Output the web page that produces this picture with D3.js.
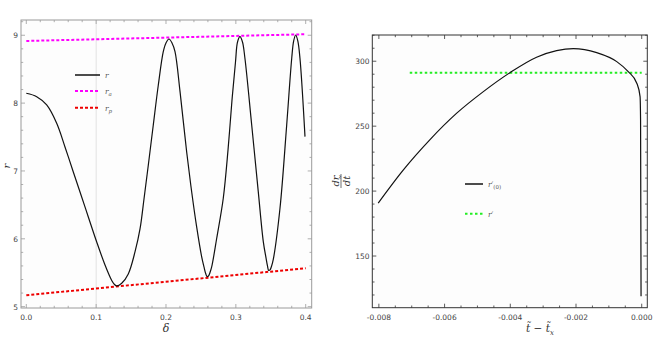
<!DOCTYPE html>
<html><head><meta charset="utf-8">
<script src="https://cdn.jsdelivr.net/npm/d3@7"></script>
<style>body{margin:0;background:#fff}svg{display:block}</style>
</head><body>
<svg id="c" width="659" height="337"></svg>
<script>
// ---- Left panel data: r(δ) ----
const deltaVals = [0, 0.0149, 0.0292, 0.0435, 0.0554, 0.0673, 0.0769, 0.0888, 0.1008, 0.1127, 0.1223, 0.1263, 0.1294,
  0.1366, 0.146, 0.1556, 0.1628, 0.1685, 0.1747, 0.1818, 0.189, 0.1961, 0.2, 0.2043, 0.2086, 0.2129,
  0.2201, 0.2296, 0.2368, 0.2439, 0.2511, 0.2544, 0.2568, 0.2587, 0.2608, 0.263, 0.2654,
  0.2726, 0.282, 0.2888, 0.2945, 0.2995, 0.3024, 0.3059, 0.3095, 0.313,
  0.3227, 0.3321, 0.3393, 0.3432, 0.3453, 0.347, 0.3489, 0.351, 0.3536,
  0.3632, 0.3728, 0.38, 0.3828, 0.3857, 0.3887, 0.3918, 0.399];
const rVals = [8.145, 8.095, 7.973, 7.703, 7.354, 6.985, 6.69, 6.322, 5.953, 5.614, 5.386, 5.327, 5.305,
  5.345, 5.482, 5.806, 6.145, 6.587, 7.088, 7.678, 8.267, 8.758, 8.887, 8.945, 8.887, 8.758,
  8.169, 7.28, 6.69, 6.175, 5.733, 5.585, 5.489, 5.445, 5.452, 5.504, 5.585,
  6.008, 6.598, 7.31, 8.046, 8.606, 8.901, 8.979, 8.901, 8.661,
  7.678, 6.695, 5.958, 5.718, 5.6, 5.534, 5.541, 5.592, 5.696,
  6.45, 7.678, 8.661, 8.916, 9.004, 8.916, 8.661, 7.506];
const raDelta = [0, 0.4];
const raVals = [8.916, 9.015];
const rpDelta = [0, 0.4];
const rpVals = [5.168, 5.566];
const leftYTicks = [5, 6, 7, 8, 9];
const leftXTicks = [0, 0.1, 0.2, 0.3, 0.4];
const leftXTickLabels = ["0.0", "0.1", "0.2", "0.3", "0.4"];

// ---- Right panel data: dr/dt ----
const tVals = [-0.00802, -0.00726, -0.00645, -0.00563, -0.00482, -0.00401, -0.0032, -0.00259, -0.00208, -0.00137, -0.00076, -0.00041, -0.00015, -0.00005, -0.000035, -0.00002];
const drVals = [190.8, 216.2, 239.5, 260, 276.6, 291.2, 303.1, 308.2, 309.7, 306.6, 299.7, 292, 283.1, 272.8, 255, 119];
const rStarT = [-0.00706, 0];
const rStarVals = [291.2, 291.2];
const rightYTicks = [150, 200, 250, 300];
const rightXTicks = [-0.008, -0.006, -0.004, -0.002, 0];
const rightXTickLabels = ["-0.008", "-0.006", "-0.004", "-0.002", "0.000"];

const svg = d3.select("#c");

function frame(g, x, y, xMajor, xMinorStep, yMajor, yMinorStep, frameColor) {
  const [x0, x1] = x.range(), [y0, y1] = y.range();
  const xd = x.domain(), yd = y.domain();
  const xmin = d3.range(Math.ceil(xd[0] / xMinorStep - 1e-6), Math.floor(xd[1] / xMinorStep + 1e-6) + 1).map(i => i * xMinorStep);
  const ymin = d3.range(Math.ceil(yd[0] / yMinorStep - 1e-6), Math.floor(yd[1] / yMinorStep + 1e-6) + 1).map(i => i * yMinorStep);
  const isMajor = (v, arr, step) => arr.some(a => Math.abs(a - v) < step * 0.01);
  const tg = g.append("g").attr("stroke", frameColor).attr("stroke-width", 0.8);
  xmin.forEach(v => {
    const L = isMajor(v, xMajor, xMinorStep) ? 4 : 2.2;
    tg.append("line").attr("x1", x(v)).attr("x2", x(v)).attr("y1", y0).attr("y2", y0 - L);
    tg.append("line").attr("x1", x(v)).attr("x2", x(v)).attr("y1", y1).attr("y2", y1 + L);
  });
  ymin.forEach(v => {
    const L = isMajor(v, yMajor, yMinorStep) ? 4 : 2.2;
    tg.append("line").attr("y1", y(v)).attr("y2", y(v)).attr("x1", x0).attr("x2", x0 + L);
    tg.append("line").attr("y1", y(v)).attr("y2", y(v)).attr("x1", x1).attr("x2", x1 - L);
  });
  g.append("rect").attr("x", x0).attr("y", y1).attr("width", x1 - x0).attr("height", y0 - y1)
    .attr("fill", "none").attr("stroke", frameColor).attr("stroke-width", 1);
}

const tickFont = "DejaVu Sans, sans-serif";

// ================= LEFT =================
const xL = d3.scaleLinear().domain([-0.00759, 0.4086]).range([21, 311.7]);
const yL = d3.scaleLinear().domain([4.98, 9.225]).range([308, 20]);
const gL = svg.append("g");
gL.append("rect").attr("x", 21).attr("y", 20).attr("width", 290.7).attr("height", 288).attr("fill", "#fdfdfd");
gL.append("line").attr("x1", xL(0.1)).attr("x2", xL(0.1)).attr("y1", yL.range()[0]).attr("y2", yL.range()[1])
  .attr("stroke", "#e2e2e2").attr("stroke-width", 1);
frame(gL, xL, yL, leftXTicks, 0.02, leftYTicks, 0.2, "#9a9a9a");

const lineL = d3.line().x(d => xL(d[0])).y(d => yL(d[1]));
gL.append("path").datum(d3.zip(raDelta, raVals)).attr("d", lineL)
  .attr("fill", "none").attr("stroke", "#ff00ff").attr("stroke-width", 2).attr("stroke-dasharray", "3,2");
gL.append("path").datum(d3.zip(rpDelta, rpVals)).attr("d", lineL)
  .attr("fill", "none").attr("stroke", "#ee0000").attr("stroke-width", 2).attr("stroke-dasharray", "3,2");
gL.append("path").datum(d3.zip(deltaVals, rVals))
  .attr("d", d3.line().x(d => xL(d[0])).y(d => yL(d[1])).curve(d3.curveCatmullRom.alpha(0.5)))
  .attr("fill", "none").attr("stroke", "#111").attr("stroke-width", 1.2);

gL.selectAll(".yt").data(leftYTicks).enter().append("text")
  .attr("x", 18).attr("y", d => yL(d) + 3).attr("text-anchor", "end")
  .attr("font-family", tickFont).attr("font-size", 7.5).attr("fill", "#444").text(d => d);
gL.selectAll(".xt").data(leftXTicks).enter().append("text")
  .attr("x", d => xL(d)).attr("y", 319.5).attr("text-anchor", "middle")
  .attr("font-family", tickFont).attr("font-size", 7.5).attr("fill", "#444")
  .text((d, i) => leftXTickLabels[i]);
gL.append("text").attr("x", 166).attr("y", 332).attr("text-anchor", "middle")
  .attr("font-family", "DejaVu Serif, serif").attr("font-style", "italic").attr("font-size", 11).attr("fill", "#333").text("δ");
gL.append("text").attr("transform", "translate(10,166) rotate(-90)").attr("text-anchor", "middle")
  .attr("font-family", "DejaVu Serif, serif").attr("font-style", "italic").attr("font-size", 10).attr("fill", "#333").text("r");

// left legend
const legL = [
  {c: "#111", dash: null, w: 1.5, y: 75, lab: "r", sub: ""},
  {c: "#ff00ff", dash: "3,2", w: 2, y: 91, lab: "r", sub: "a"},
  {c: "#ee0000", dash: "3,2", w: 2, y: 107.7, lab: "r", sub: "p"}
];
legL.forEach(d => {
  gL.append("line").attr("x1", 75).attr("x2", 100).attr("y1", d.y).attr("y2", d.y)
    .attr("stroke", d.c).attr("stroke-width", d.w).attr("stroke-dasharray", d.dash);
  const t = gL.append("text").attr("x", 105).attr("y", d.y + 3)
    .attr("font-family", "DejaVu Serif, serif").attr("font-style", "italic").attr("font-size", 7.5).attr("fill", "#555");
  t.append("tspan").text(d.lab);
  if (d.sub) t.append("tspan").attr("dy", 2).attr("font-size", 5.5).text(d.sub);
});

// ================= RIGHT =================
const xR = d3.scaleLinear().domain([-0.0082, 0.00017]).range([372.3, 647.3]);
const yR = d3.scaleLinear().domain([110.2, 320.2]).range([307.7, 35]);
const gR = svg.append("g");
gR.append("rect").attr("x", 372.3).attr("y", 35).attr("width", 275).attr("height", 272.7).attr("fill", "#fdfdfd");
frame(gR, xR, yR, rightXTicks, 0.0005, rightYTicks, 10, "#333");

const lineR = d3.line().x(d => xR(d[0])).y(d => yR(d[1]));
gR.append("path").datum(d3.zip(rStarT, rStarVals)).attr("d", lineR)
  .attr("fill", "none").attr("stroke", "#22ee22").attr("stroke-width", 2).attr("stroke-dasharray", "2.5,2.5");
gR.append("path").datum(d3.zip(tVals, drVals)).attr("d", d3.line().x(d => xR(d[0])).y(d => yR(d[1])).curve(d3.curveMonotoneX))
  .attr("fill", "none").attr("stroke", "#111").attr("stroke-width", 1.2);

gR.selectAll(".yt").data(rightYTicks).enter().append("text")
  .attr("x", 369.5).attr("y", d => yR(d) + 3).attr("text-anchor", "end")
  .attr("font-family", tickFont).attr("font-size", 7.5).attr("fill", "#444").text(d => d);
gR.selectAll(".xt").data(rightXTicks).enter().append("text")
  .attr("x", d => xR(d)).attr("y", 319.5).attr("text-anchor", "middle")
  .attr("font-family", tickFont).attr("font-size", 7.5).attr("fill", "#444")
  .text((d, i) => rightXTickLabels[i]);

// x label: t̃ − t̃ₓ
const xl = gR.append("text").attr("x", 540).attr("y", 332).attr("text-anchor", "middle")
  .attr("font-family", "DejaVu Serif, serif").attr("font-size", 10.5).attr("fill", "#333");
xl.append("tspan").attr("font-style", "italic").text("t\u0303");
xl.append("tspan").text(" \u2212 ");
xl.append("tspan").attr("font-style", "italic").text("t\u0303");
xl.append("tspan").attr("font-style", "italic").attr("dy", 2.5).attr("font-size", 7).text("x");

// y label: dr / dt̃ (rotated fraction)
const yl = gR.append("g").attr("transform", "translate(341,181) rotate(-90)")
  .attr("font-family", "DejaVu Serif, serif").attr("font-style", "italic").attr("font-size", 10).attr("fill", "#333");
yl.append("text").attr("x", 0).attr("y", -2.5).attr("text-anchor", "middle").text("dr");
yl.append("line").attr("x1", -7).attr("x2", 7).attr("y1", 0).attr("y2", 0).attr("stroke", "#333").attr("stroke-width", 0.7);
yl.append("text").attr("x", 0).attr("y", 8.5).attr("text-anchor", "middle").text("dt\u0303");

// right legend
gR.append("line").attr("x1", 465).attr("x2", 483).attr("y1", 184).attr("y2", 184).attr("stroke", "#111").attr("stroke-width", 1.5);
const t1 = gR.append("text").attr("x", 488).attr("y", 187)
  .attr("font-family", "DejaVu Serif, serif").attr("font-style", "italic").attr("font-size", 7.5).attr("fill", "#555");
t1.append("tspan").text("r\u2032");
t1.append("tspan").attr("dy", 2).attr("font-size", 5.5).attr("font-style", "normal").text("(0)");
gR.append("line").attr("x1", 465).attr("x2", 483).attr("y1", 213.7).attr("y2", 213.7).attr("stroke", "#22ee22").attr("stroke-width", 2).attr("stroke-dasharray", "2.5,2.5");
gR.append("text").attr("x", 488).attr("y", 216.5)
  .attr("font-family", "DejaVu Serif, serif").attr("font-style", "italic").attr("font-size", 7.5).attr("fill", "#555").text("r\u2032");
</script>
</body></html>
